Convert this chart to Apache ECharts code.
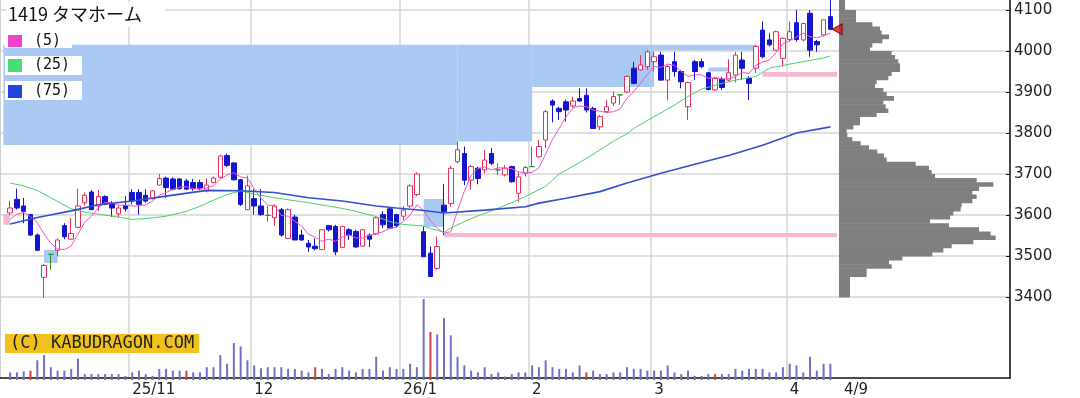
<!DOCTYPE html>
<html><head><meta charset="utf-8">
<script src="https://cdn.jsdelivr.net/npm/echarts@6/dist/echarts.min.js"></script>
<style>html,body{margin:0;padding:0;background:#fff}#c{width:1080px;height:398px}</style>
</head><body><div id="c"></div>
<script>
const dates = [
'2025-10-07','2025-10-08','2025-10-09','2025-10-10','2025-10-14','2025-10-15','2025-10-16','2025-10-17','2025-10-20','2025-10-21','2025-10-22','2025-10-23','2025-10-24','2025-10-27','2025-10-28','2025-10-29','2025-10-30','2025-10-31',
'2025-11-04','2025-11-05','2025-11-06','2025-11-07','2025-11-10','2025-11-11','2025-11-12','2025-11-13','2025-11-14','2025-11-17','2025-11-18','2025-11-19','2025-11-20','2025-11-21','2025-11-25','2025-11-26','2025-11-27','2025-11-28',
'2025-12-01','2025-12-02','2025-12-03','2025-12-04','2025-12-05','2025-12-08','2025-12-09','2025-12-10','2025-12-11','2025-12-12','2025-12-15','2025-12-16','2025-12-17','2025-12-18','2025-12-19','2025-12-22','2025-12-23','2025-12-24','2025-12-25','2025-12-26','2025-12-29','2025-12-30',
'2026-01-05','2026-01-06','2026-01-07','2026-01-08','2026-01-09','2026-01-13','2026-01-14','2026-01-15','2026-01-16','2026-01-19','2026-01-20','2026-01-21','2026-01-22','2026-01-23','2026-01-26','2026-01-27','2026-01-28','2026-01-29','2026-01-30',
'2026-02-02','2026-02-03','2026-02-04','2026-02-05','2026-02-06','2026-02-09','2026-02-10','2026-02-12','2026-02-13','2026-02-16','2026-02-17','2026-02-18','2026-02-19','2026-02-20','2026-02-24','2026-02-25','2026-02-26','2026-02-27',
'2026-03-02','2026-03-03','2026-03-04','2026-03-05','2026-03-06','2026-03-09','2026-03-10','2026-03-11','2026-03-12','2026-03-13','2026-03-16','2026-03-17','2026-03-18','2026-03-19','2026-03-23','2026-03-24','2026-03-25','2026-03-26','2026-03-27','2026-03-30',
'2026-04-01','2026-04-02','2026-04-03','2026-04-06','2026-04-07','2026-04-08','2026-04-09'];

const opens = [3605,3638,3622,3601,3551,3448,3504,3514,3574,3541, 3570,3630,3656,3622,3645,3626,3603,3623,3655,3655, 3648,3640,3673,3690,3688,3688,3683,3679,3679,3659, 3679,3692,3745,3727,3686,3613,3640,3622,3599,3593, 3613,3543,3595,3551,3531,3524,3516,3574,3572,3521, 3564,3560,3524,3551,3554,3601,3615,3601,3597,3622, 3650,3559,3507,3470,3624,3628,3730,3750,3685,3714, 3710,3750,3710,3698,3718,3653,3702,3718,3742,3783, 3878,3860,3876,3866,3884,3892,3860,3815,3852,3873, 3893,3900,3958,3954,3962,3974,3990,3929,3974,3950, 3864,3974,3974,3947,3905,3931,3929,3941,3978,3933, 3958,4051,4027,4002,3982,4028,4069,4027,4092,4023, 4039,4084];
const closes = [3617,3617,3609,3551,3514,3477,3504,3539,3547,3555, 3622,3648,3613,3645,3626,3617,3617,3615,3634,3626, 3634,3659,3689,3667,3663,3664,3663,3664,3664,3673, 3690,3744,3721,3686,3626,3671,3622,3601,3599,3622, 3551,3613,3539,3539,3522,3518,3564,3564,3510,3572, 3551,3522,3564,3541,3593,3576,3568,3574,3612,3671, 3700,3498,3450,3523,3608,3714,3759,3685,3718,3689, 3734,3726,3710,3714,3681,3693,3716,3718,3767,3852, 3868,3852,3856,3878,3878,3856,3811,3840,3864,3889, 3893,3938,3921,3966,3998,3986,3929,3962,3950,3925, 3923,3950,3962,3906,3933,3911,3947,3990,3958,3921, 4011,3986,4015,4047,4031,4047,4028,4067,4002,4015, 4076,4053];
const lows = [3600,3613,3580,3549,3512,3398,3467,3499,3541,3539, 3568,3623,3612,3609,3624,3595,3593,3609,3626,3601, 3630,3638,3671,3642,3661,3662,3661,3659,3661,3655, 3677,3689,3717,3684,3622,3612,3601,3598,3584,3574, 3547,3541,3539,3537,3510,3514,3514,3560,3502,3519, 3539,3520,3522,3522,3551,3568,3566,3570,3588,3617, 3646,3498,3450,3466,3551,3620,3726,3673,3661,3675, 3702,3722,3698,3694,3679,3633,3694,3718,3740,3763, 3826,3832,3828,3862,3876,3850,3811,3807,3848,3866, 3869,3897,3919,3952,3954,3950,3927,3880,3937,3909, 3832,3929,3958,3904,3903,3905,3925,3923,3929,3880, 3946,3982,4011,4000,3962,4023,4023,4023,3986,3998, 4035,4051];
const highs = [3634,3664,3642,3603,3555,3481,3504,3543,3580,3593, 3664,3655,3661,3661,3648,3634,3623,3646,3663,3663, 3663,3661,3700,3694,3692,3690,3688,3688,3686,3689, 3694,3747,3750,3729,3688,3696,3663,3663,3622,3626, 3617,3616,3601,3564,3539,3543,3565,3576,3576,3574, 3568,3564,3566,3555,3597,3609,3617,3603,3622,3675, 3704,3572,3523,3547,3676,3720,3779,3767,3722,3718, 3758,3763,3726,3722,3720,3706,3720,3767,3783,3856, 3882,3864,3882,3889,3909,3909,3864,3844,3880,3901, 3893,3940,3974,3990,4002,3998,3998,3966,3998,3954, 3925,3978,3982,3949,3937,3936,3980,3998,3998,3939, 4015,4072,4043,4050,4033,4072,4100,4069,4100,4027, 4077,4124];

const volumes = [22,22,25,27,57,72,37,27,27,32, 62,17,17,17,17,17,17,12,22,27, 17,12,32,32,27,27,27,22,22,37, 37,72,47,107,97,57,42,34,37,37, 37,32,32,27,22,37,32,17,32,37, 27,22,32,32,67,27,37,32,32,47, 37,234,139,132,179,129,67,42,27,22, 37,17,22,10,17,22,22,42,37,57, 37,32,32,22,42,22,27,17,17,22, 22,37,32,32,27,27,27,42,22,17, 27,12,12,17,17,17,17,32,27,32, 32,32,22,22,37,47,42,22,67,27, 47,47];
const redVolumeDays = [4,27,46,63,86,105];

const ma5 = [3590,3602,3606,3596,3582,3554,3531,3517,3516,3524, 3553,3582,3597,3617,3631,3630,3624,3624,3622,3622, 3625,3634,3648,3655,3662,3668,3669,3664,3664,3666, 3671,3687,3698,3703,3693,3690,3665,3641,3624,3623, 3599,3597,3585,3573,3553,3546,3536,3541,3536,3546, 3552,3544,3544,3550,3554,3559,3568,3570,3585,3600, 3625,3611,3586,3568,3556,3559,3611,3658,3697,3713, 3717,3710,3715,3715,3713,3705,3703,3704,3715,3749, 3784,3811,3839,3861,3866,3864,3856,3853,3850,3852, 3859,3885,3901,3921,3943,3962,3960,3968,3965,3950, 3938,3942,3942,3933,3935,3932,3932,3937,3948,3945, 3965,3973,3978,3996,4018,4025,4034,4044,4035,4032, 4038,4043];
const ma25 = [[1,3678],[3,3671],[5,3660],[7,3642],[10,3615],[12,3607],[14,3602],[17,3595],[19,3589],[22,3593],[24,3597],[27,3609],[29,3621],[31,3636],[33,3650],[35,3659],[37,3651],[40,3642],[45,3630],[50,3616],[52,3609],[55,3596],[57,3584],[59,3577],[62,3573],[63,3567],[65,3558],[66,3568],[68,3584],[70,3598],[72,3610],[75,3630],[77,3645],[80,3670],[82,3700],[85,3728],[87,3748],[90,3780],[92,3798],[93,3811],[96,3840],[97,3849],[99,3868],[101,3889],[103,3907],[106,3921],[108,3929],[111,3938],[113,3958],[116,3968],[118,3974],[121,3983],[122,3988]];
const ma75 = [[1,3578],[5,3594],[10,3610],[14,3625],[19,3634],[24,3646],[30,3660],[35,3659],[40,3655],[45,3642],[50,3634],[55,3622],[58,3617],[62,3611],[65,3605],[71,3612],[77,3620],[79,3629],[83,3641],[88,3657],[92,3678],[97,3702],[102,3724],[107,3745],[112,3770],[117,3800],[122,3815]];

const profileLevels = [3400,3410,3420,3430,3440,3450,3460,3470,3480,3490,3500,3510,3520,3530,3540,3550,3560,3570,3580,3590,3600,3610,3620,3630,3640,3650,3660,3670,3680,3690,3700,3710,3720,3730,3740,3750,3760,3770,3780,3790,3800,3810,3820,3830,3840,3850,3860,3870,3880,3890,3900,3910,3920,3930,3940,3950,3960,3970,3980,3990,4000,4010,4020,4030,4040,4050,4060,4070,4080,4090,4100,4110,4120];
const profileVolumes = [33,33,33,33,33,83,83,158,150,190,280,313,338,403,470,455,420,330,273,333,343,365,368,400,413,400,420,463,413,288,278,270,230,143,135,115,90,65,40,25,23,43,63,63,113,148,140,133,165,143,133,108,113,148,158,183,183,178,168,158,93,100,130,150,128,123,100,51,51,51,18,18,18];

// gap zones: [fromIndex, toIndex, lowPrice, highPrice]
const blueZones = [[-0.5,66.5,3771,4015],[66.5,77.5,3779,4015],[77.5,95.5,3912,4015],[95.5,110.5,4002,4015],[5.5,7.5,3483,3515],[61.5,65,3571,3639],[103.5,106.5,3950,3960]];
const pinkZones = [[-0.5,1,3576,3602],[65,122.5,3546,3556],[111.5,122.5,3937,3949]];

const tickLabels = ['25/11','12','26/1','2','3','4'];
const lastDateLabel = '4/9';
const title = '1419 タマホーム';
const maNames = ['(5)','(25)','(75)'];
const credit = '(C) KABUDRAGON.COM';

// ---------- build ----------
const TRAIL = 26;
const cats = [''].concat(dates, new Array(TRAIL).fill('').map((_,i)=>' '+i));
const monthStart = {};
let k = 0;
for (let i = 1; i < dates.length; i++) {
  if (dates[i].slice(0,7) !== dates[i-1].slice(0,7)) { monthStart[i+1] = tickLabels[k++]; }
}
const lastLabelIdx = dates.length + 2;
const labelAt = idx => monthStart[idx] !== undefined ? monthStart[idx] : (idx === lastLabelIdx ? lastDateLabel : null);

const candleData = dates.map((d,i)=>[i+1, opens[i], closes[i], lows[i], highs[i]]);
const volData = volumes.map((v,i)=>({value:[i+1,v], itemStyle:{color: redVolumeDays.includes(i+1) ? '#cc4040' : '#6f6fc6'}}));
const binSize = profileLevels[1]-profileLevels[0];

const FONT = '"DejaVu Sans", Verdana, sans-serif';
const zoneItems = (zs, color) => zs.map(z => [{coord:[z[0], z[3]], itemStyle:{color}}, {coord:[z[1], z[2]]}]);

const chart = echarts.init(document.getElementById('c'), null, {renderer:'canvas'});
chart.setOption({
  animation: false,
  backgroundColor: '#fff',
  grid: [
    {left:0, top:0, width:1010, height:380},
    {left:0, top:10, width:1010, height:287},
    {left:0, top:297, width:1010, height:83},
    {left:839, top:10, width:171, height:287}
  ],
  xAxis: [
    {gridIndex:0, type:'category', data:cats, boundaryGap:true,
     axisLine:{lineStyle:{color:'#111', width:1.5}}, axisTick:{show:false},
     axisLabel:{interval:(i)=>labelAt(i)!==null, formatter:(v,i)=>labelAt(i)||'', color:'#222', fontSize:15, fontFamily:FONT, align:'left', margin:5},
     splitLine:{show:true, interval:(i)=>monthStart[i]!==undefined, lineStyle:{color:'#d6d6d6', width:1.5}}},
    {gridIndex:1, type:'category', data:cats, boundaryGap:true, show:false},
    {gridIndex:2, type:'category', data:cats, boundaryGap:true, show:false},
    {gridIndex:3, type:'value', min:0, max:513, show:false}
  ],
  yAxis: [
    {gridIndex:0, type:'value', min:0, max:1, position:'right', axisLine:{show:true, lineStyle:{color:'#111', width:1.5}}, axisTick:{show:false}, axisLabel:{show:false}, splitLine:{show:false}},
    {gridIndex:1, type:'value', min:3400, max:4100, interval:100, position:'right', axisLine:{show:false},
     axisTick:{show:true, inside:true, length:4, lineStyle:{color:'#111'}},
     axisLabel:{color:'#222', fontSize:15, fontFamily:FONT, margin:4, formatter:(v)=>String(v)},
     splitLine:{show:true, lineStyle:{color:'#d6d6d6', width:1.5}}},
    {gridIndex:2, type:'value', min:0, max:240, show:false},
    {gridIndex:3, type:'value', min:3400, max:4100, show:false},
    {gridIndex:0, type:'value', min:0, max:1, position:'left', axisLine:{show:true, lineStyle:{color:'#d0d0d0', width:2}}, axisTick:{show:false}, axisLabel:{show:false}, splitLine:{show:false}}
  ],
  series: [
    {type:'line', xAxisIndex:1, yAxisIndex:1, data:[], z:1, silent:true,
     markArea:{silent:true, data: zoneItems(blueZones, '#a9c9f3').concat(zoneItems(pinkZones, '#f5b8d2'))}},
    {type:'bar', xAxisIndex:2, yAxisIndex:2, data:volData, barWidth:2, z:2, silent:true},
    {type:'custom', xAxisIndex:3, yAxisIndex:3, z:2, silent:true, clip:false,
     data: profileLevels.map((p,i)=>[p, profileVolumes[i]]),
     renderItem:(params, api)=>{
       const lo = api.value(0), v = api.value(1);
       const a = api.coord([0, lo]); const b = api.coord([v, lo + binSize]);
       return {type:'rect', shape:{x:a[0], y:b[1], width:b[0]-a[0], height:a[1]-b[1]+0.5}, style:{fill:'#7f7f7f'}};
     }},
    {type:'candlestick', xAxisIndex:1, yAxisIndex:1, data:candleData, encode:{x:0, y:[1,2,3,4]}, barWidth:5, z:3, clip:false, silent:true,
     itemStyle:{color:'#ffffff', borderColor:'#e3305e', color0:'#1515cf', borderColor0:'#1515cf', borderColorDoji:'#2a962a', borderWidth:1}},
    {type:'line', xAxisIndex:1, yAxisIndex:1, data:ma5.map((v,i)=>[i+1,v]), showSymbol:false, z:4, silent:true, lineStyle:{color:'#ec55c8', width:1}},
    {type:'line', xAxisIndex:1, yAxisIndex:1, data:ma25, showSymbol:false, z:4, silent:true, lineStyle:{color:'#4ccf6e', width:1}},
    {type:'line', xAxisIndex:1, yAxisIndex:1, data:ma75, showSymbol:false, z:4, silent:true, lineStyle:{color:'#3350cc', width:1.6}},
    {type:'scatter', xAxisIndex:1, yAxisIndex:1, data:[[dates.length+1, closes[closes.length-1]]], symbol:'triangle', symbolSize:[11,10], symbolRotate:90, z:6, silent:true,
     itemStyle:{color:'#e01818', borderColor:'#5a0000', borderWidth:1}}
  ],
  graphic: [
    {type:'rect', shape:{x:6, y:2, width:159, height:25}, style:{fill:'#fff'}, z:10},
    {type:'text', x:8, y:14, style:{text:title, font:'18px "Noto Sans CJK JP"', fill:'#111', textVerticalAlign:'middle'}, z:11},
    {type:'rect', shape:{x:5, y:31, width:67, height:17}, style:{fill:'#fff'}, z:10},
    {type:'rect', shape:{x:5, y:56, width:77, height:19}, style:{fill:'#fff'}, z:10},
    {type:'rect', shape:{x:5, y:81, width:77, height:19}, style:{fill:'#fff'}, z:10},
    {type:'rect', shape:{x:8, y:35, width:14, height:12}, style:{fill:'#ee44cc'}, z:11},
    {type:'rect', shape:{x:8, y:59, width:14, height:13}, style:{fill:'#44dd77'}, z:11},
    {type:'rect', shape:{x:8, y:85, width:14, height:13}, style:{fill:'#2244dd'}, z:11},
    {type:'text', x:34, y:41, style:{text:maNames[0], font:'15px "DejaVu Sans Mono"', fill:'#111', textVerticalAlign:'middle'}, z:11},
    {type:'text', x:34, y:65, style:{text:maNames[1], font:'15px "DejaVu Sans Mono"', fill:'#111', textVerticalAlign:'middle'}, z:11},
    {type:'text', x:34, y:91, style:{text:maNames[2], font:'15px "DejaVu Sans Mono"', fill:'#111', textVerticalAlign:'middle'}, z:11},
    {type:'text', x:5, y:334, style:{text:credit, font:'17px "DejaVu Sans Mono"', fill:'#222', backgroundColor:'#f2c21c', padding:[1,5,1,5]}, z:11}
  ]
});
</script></body></html>
